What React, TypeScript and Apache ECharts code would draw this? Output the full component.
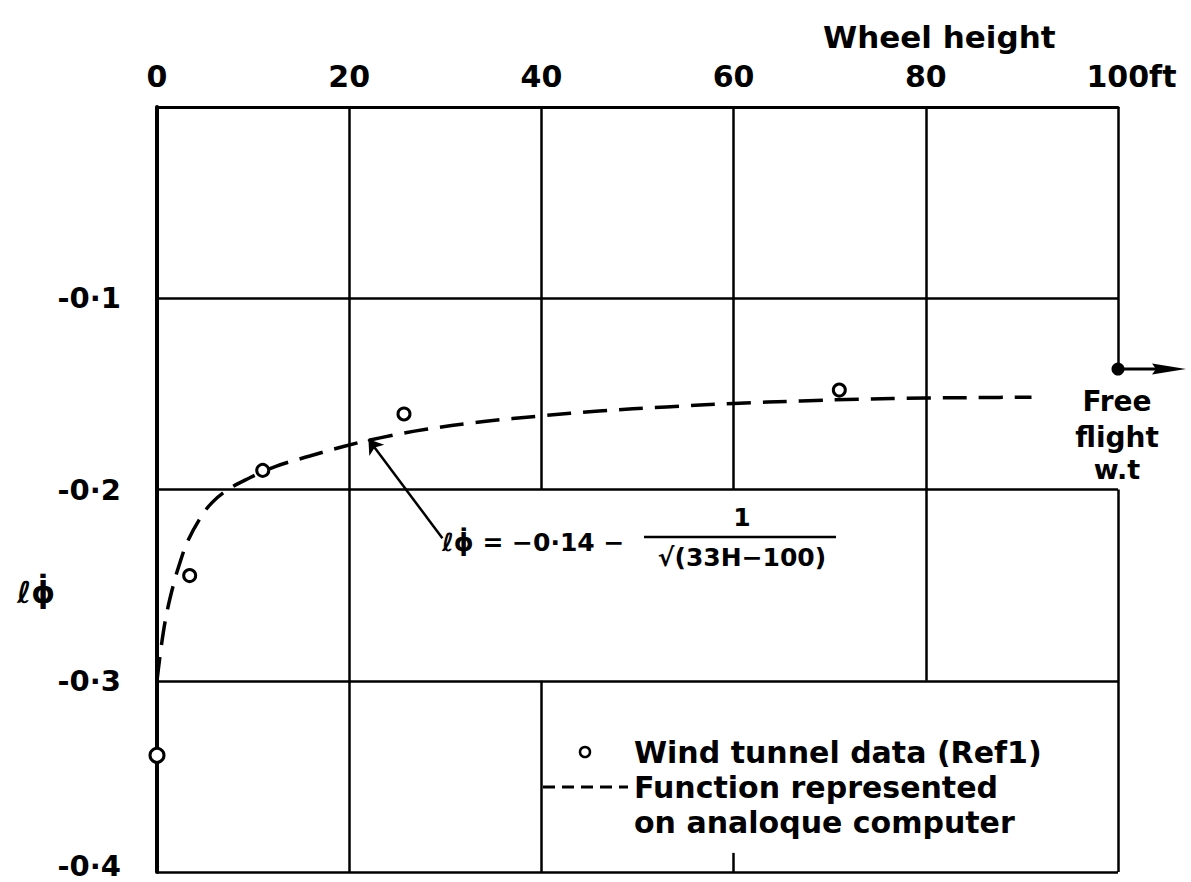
import React, { useEffect, useRef } from 'react';
import * as echarts from 'echarts';

// ---- data ----
const xTicks = [0, 20, 40, 60, 80, 100];
const yTicks = [0, -0.1, -0.2, -0.3, -0.4];

// dashed curve: function represented on analogue computer
const curveH = [0, 0.5, 1.0, 1.7, 2.4, 3.2, 4.5, 5.7, 7.4, 9.6, 12.3, 15.9, 19.4, 23.2, 28, 34, 40, 46, 53, 60, 67, 73, 80, 86, 91];
const curveV = [-0.3, -0.28, -0.265, -0.25, -0.238, -0.227, -0.215, -0.207, -0.2, -0.194, -0.188, -0.1825, -0.1775, -0.173, -0.1685, -0.1645, -0.1615, -0.159, -0.1568, -0.155, -0.1537, -0.1528, -0.1522, -0.1519, -0.1517];

// wind tunnel data (Ref 1)
const tunnelH = [0, 3.4, 11.0, 25.7, 71.0];
const tunnelV = [-0.339, -0.245, -0.19, -0.1605, -0.148];

// free flight value
const freeFlightH = [100];
const freeFlightV = [-0.137];

// leader line from formula to curve [tip, tail]
const leaderH = [22, 29.7];
const leaderV = [-0.1737, -0.2255];

// grid segments (vertical: [H, vTop, vBottom]; horizontal: [v, hLeft, hRight])
const gridVertical = [
  [20, 0, -0.4],
  [40, 0, -0.2],
  [40, -0.3, -0.4],
  [60, 0, -0.2],
  [60, -0.39, -0.4],
  [80, 0, -0.3],
  [100, 0, -0.137],
  [100, -0.2, -0.4],
];
const gridHorizontal = [
  [-0.1, 0, 100],
  [-0.2, 0, 100],
  [-0.3, 0, 100],
  [-0.4, 0, 100],
];

const FONT = '"DejaVu Sans", "Liberation Sans", sans-serif';

export default function App() {
  const ref = useRef<HTMLDivElement>(null);

  useEffect(() => {
    if (!ref.current) return;
    const chart = echarts.init(ref.current, undefined, { renderer: 'svg' });

    const gridLines: any[] = [];
    gridVertical.forEach(([h, a, b]) => gridLines.push([{ coord: [h, a] }, { coord: [h, b] }]));
    gridHorizontal.forEach(([v, a, b]) => gridLines.push([{ coord: [a, v] }, { coord: [b, v] }]));

    const txt = (x: number, y: number, text: string, size: number, align = 'left', extra: any = {}) => ({
      type: 'text',
      x,
      y,
      z: 100,
      style: {
        text,
        fill: '#000',
        fontSize: size,
        fontWeight: 'bold',
        fontFamily: FONT,
        align,
        verticalAlign: 'middle',
        ...extra,
      },
    });

    const yLabelStyle = { fontSize: 29, fontWeight: 'bold', fontFamily: FONT, color: '#000' };

    const option: any = {
      animation: false,
      backgroundColor: '#fff',
      title: {
        text: 'Wheel height',
        left: 818,
        top: 16,
        textStyle: { fontSize: 31, fontWeight: 'bold', fontFamily: FONT, color: '#000' },
      },
      grid: { left: 157, right: 73, top: 107, bottom: 10, containLabel: false, outerBoundsMode: 'none' },
      xAxis: {
        type: 'value',
        position: 'top',
        min: xTicks[0],
        max: xTicks[xTicks.length - 1],
        interval: 20,
        axisLine: { show: true, lineStyle: { color: '#000', width: 3 } },
        axisTick: { show: false },
        splitLine: { show: false },
        axisLabel: {
          margin: 16,
          color: '#000',
          fontSize: 30,
          fontWeight: 'bold',
          fontFamily: FONT,
          formatter: (v: number) => (v === 100 ? '{p|}{n|100}{u|ft}' : '{n|' + v + '}'),
          rich: {
            p: { width: 27 },
            n: { fontSize: 30, fontWeight: 'bold', fontFamily: FONT, color: '#000' },
            u: { fontSize: 30, fontWeight: 'bold', fontFamily: FONT, color: '#000' },
          },
        },
      },
      yAxis: {
        type: 'value',
        min: yTicks[yTicks.length - 1],
        max: yTicks[0],
        interval: 0.1,
        axisLine: { show: true, lineStyle: { color: '#000', width: 4 } },
        axisTick: { show: false },
        splitLine: { show: false },
        axisLabel: {
          margin: 36,
          color: '#000',
          fontSize: 29,
          fontWeight: 'bold',
          fontFamily: FONT,
          formatter: (v: number) => {
            if (Math.abs(v) < 1e-9) return '';
            const s = '-0·' + Math.round(-v * 10);
            return Math.abs(v + 0.4) < 1e-9 ? '{b|' + s + '}' : '{a|' + s + '}';
          },
          rich: {
            a: { ...yLabelStyle, lineHeight: 26 },
            b: { ...yLabelStyle, lineHeight: 16, padding: [0, 0, 12, 0] },
          },
        },
      },
      series: [
        {
          type: 'line',
          name: 'Function represented on analoque computer',
          data: curveH.map((h, i) => [h, curveV[i]]),
          smooth: 0.4,
          showSymbol: false,
          symbol: 'none',
          lineStyle: { color: '#000', width: 3.5, type: [24, 12] },
          z: 3,
          markLine: {
            silent: true,
            symbol: ['none', 'none'],
            label: { show: false },
            lineStyle: { color: '#000', width: 2.5, type: 'solid' },
            data: gridLines,
            z: 1,
          },
        },
        {
          type: 'line',
          name: 'leader',
          data: [],
          markLine: {
            silent: true,
            symbol: ['arrow', 'none'],
            symbolSize: 14,
            label: { show: false },
            lineStyle: { color: '#000', width: 2.5, type: 'solid' },
            data: [[{ coord: [leaderH[0], leaderV[0]] }, { coord: [leaderH[1], leaderV[1]] }]],
          },
        },
        {
          type: 'scatter',
          name: 'Wind tunnel data (Ref1)',
          data: tunnelH.map((h, i) => [h, tunnelV[i]]),
          symbol: 'circle',
          symbolSize: (val: number[]) => (val[0] === 0 ? 14 : 12),
          itemStyle: { color: '#fff', borderColor: '#000', borderWidth: 3, opacity: 1 },
          clip: false,
          z: 5,
        },
        {
          type: 'custom',
          name: 'Free flight',
          data: freeFlightH.map((h, i) => [h, freeFlightV[i]]),
          clip: false,
          z: 6,
          renderItem: (params: any, api: any) => {
            const p = api.coord([api.value(0), api.value(1)]);
            return {
              type: 'group',
              children: [
                {
                  type: 'line',
                  shape: { x1: p[0], y1: p[1], x2: p[0] + 40, y2: p[1] },
                  style: { stroke: '#000', lineWidth: 3 },
                },
                {
                  type: 'polygon',
                  shape: { points: [[p[0] + 68, p[1]], [p[0] + 34, p[1] - 5.5], [p[0] + 38, p[1]], [p[0] + 34, p[1] + 5.5]] },
                  style: { fill: '#000' },
                },
                {
                  type: 'circle',
                  shape: { cx: p[0], cy: p[1], r: 6.5 },
                  style: { fill: '#000' },
                },
              ],
            };
          },
        },
      ],
      graphic: [
        // y-axis name
        txt(36, 592, 'ℓϕ̇', 30, 'center'),
        // free flight label
        txt(1117, 401, 'Free', 28, 'center'),
        txt(1117, 437, 'flight', 28, 'center'),
        txt(1117, 469, 'w.t', 27, 'center'),
        // formula
        txt(442, 542, 'ℓϕ̇ = −0·14 −', 25, 'left'),
        txt(742, 517, '1', 25, 'center'),
        {
          type: 'line',
          z: 100,
          shape: { x1: 644, y1: 537, x2: 836, y2: 537 },
          style: { stroke: '#000', lineWidth: 2.5 },
        },
        txt(742, 557, '√(33H−100)', 25, 'center'),
        // legend
        {
          type: 'circle',
          z: 100,
          shape: { cx: 585, cy: 752, r: 5 },
          style: { fill: '#fff', stroke: '#000', lineWidth: 2.5 },
        },
        {
          type: 'line',
          z: 100,
          shape: { x1: 543, y1: 787, x2: 628, y2: 787 },
          style: { stroke: '#000', lineWidth: 3, lineDash: [12, 7] },
        },
        txt(634, 752, 'Wind tunnel data (Ref1)', 30, 'left'),
        txt(634, 787, 'Function represented', 30, 'left'),
        txt(634, 822, 'on analoque computer', 30, 'left'),
      ],
    };

    chart.setOption(option);
    return () => chart.dispose();
  }, []);

  return (
    <div
      ref={ref}
      style={{ position: 'fixed', left: 0, top: 0, width: 1191, height: 882, background: '#fff' }}
    />
  );
}
